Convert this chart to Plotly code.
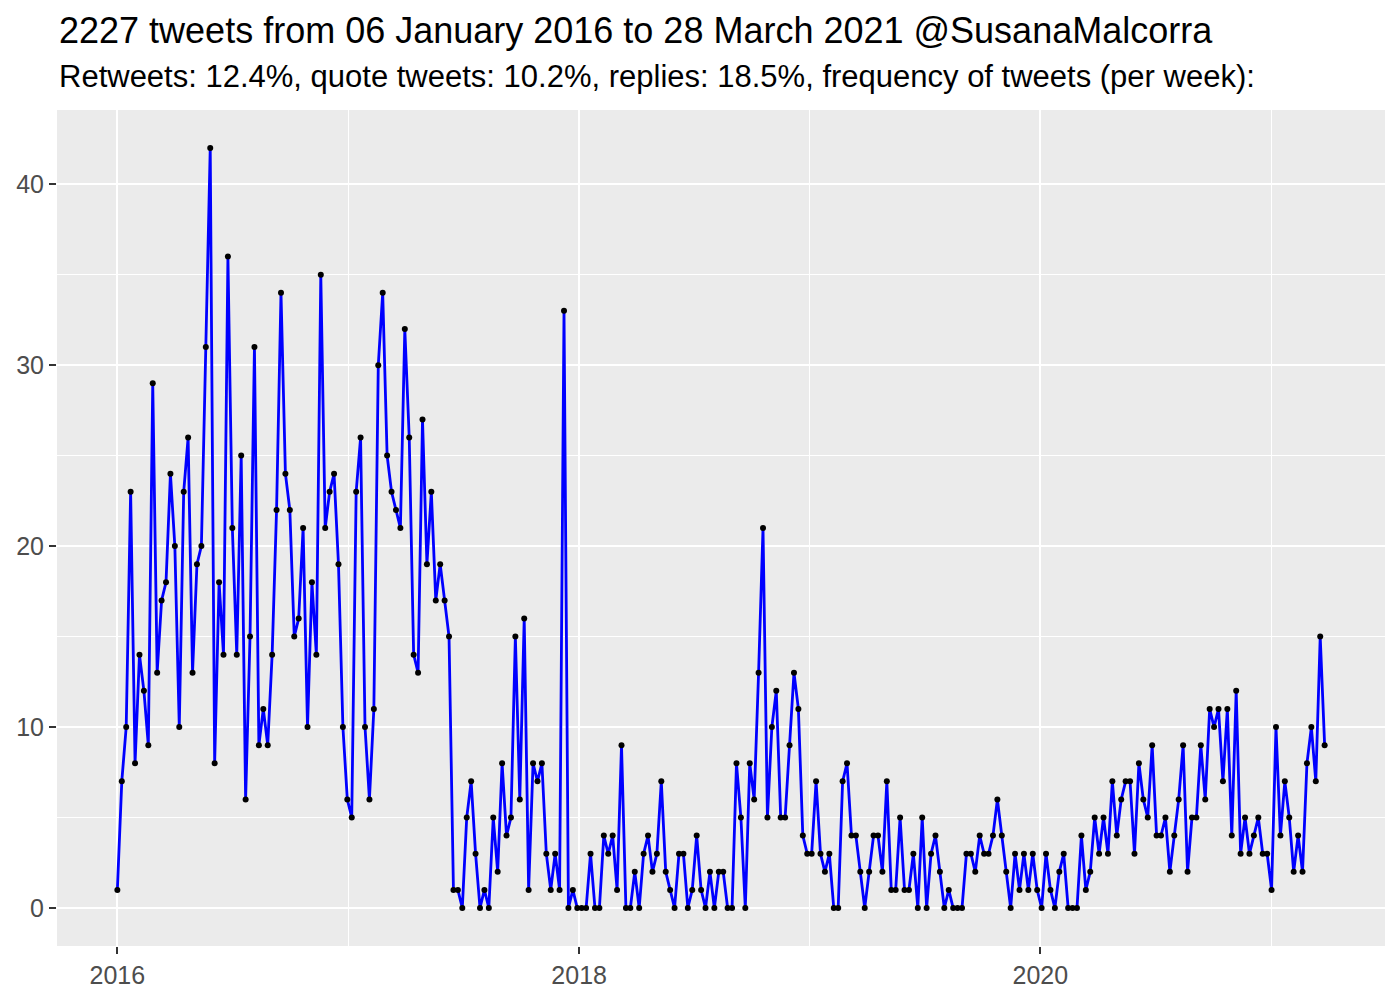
import plotly.graph_objects as go
import pandas as pd

# weekly tweet counts (weeks start 2016-01-01)
first_week = '2016-01-01'

weeks_2016 = [1, 7, 10, 23, 8, 14, 12, 9, 29, 13, 17, 18, 24, 20, 10, 23, 26, 13,
              19, 20, 31, 42, 8, 18, 14, 36, 21, 14, 25, 6, 15, 31, 9, 11, 9, 14,
              22, 34, 24, 22, 15, 16, 21, 10, 18, 14, 35, 21, 23, 24, 19, 10, 6]
weeks_2017 = [5, 23, 26, 10, 6, 11, 30, 34, 25, 23, 22, 21, 32, 26, 14, 13, 27, 19,
              23, 17, 19, 17, 15, 1, 1, 0, 5, 7, 3, 0, 1, 0, 5, 2, 8, 4, 5, 15, 6,
              16, 1, 8, 7, 8, 3, 1, 3, 1, 33, 0, 1, 0]
weeks_2018 = [0, 0, 3, 0, 0, 4, 3, 4, 1, 9, 0, 0, 2, 0, 3, 4, 2, 3, 7, 2, 1, 0, 3, 3,
              0, 1, 4, 1, 0, 2, 0, 2, 2, 0, 0, 8, 5, 0, 8, 6, 13, 21, 5, 10, 12, 5,
              5, 9, 13, 11, 4, 3]
weeks_2019 = [3, 7, 3, 2, 3, 0, 0, 7, 8, 4, 4, 2, 0, 2, 4, 4, 2, 7, 1, 1, 5, 1, 1,
              3, 0, 5, 0, 3, 4, 2, 0, 1, 0, 0, 0, 3, 3, 2, 4, 3, 3, 4, 6, 4, 2, 0,
              3, 1, 3, 1, 3, 1]
weeks_2020 = [0, 3, 1, 0, 2, 3, 0, 0, 0, 4, 1, 2, 5, 3, 5, 3, 7, 4, 6, 7, 7, 3, 8,
              6, 5, 9, 4, 4, 5, 2, 4, 6, 9, 2, 5, 5, 9, 6, 11, 10, 11, 7, 11, 4, 12,
              3, 5, 3, 4, 5, 3, 3]
weeks_2021 = [1, 10, 4, 7, 5, 2, 4, 2, 8, 10, 7, 15, 9]

counts = weeks_2016 + weeks_2017 + weeks_2018 + weeks_2019 + weeks_2020 + weeks_2021
dates = pd.date_range(first_week, periods=len(counts), freq='7D')

title_text = '2227 tweets from 06 January 2016 to 28 March 2021 @SusanaMalcorra'
subtitle_text = ('Retweets: 12.4%, quote tweets: 10.2%, replies: 18.5%, '
                 'frequency of tweets (per week):')

# ggplot-like 5% expansion
span = dates[-1] - dates[0]
x_range = [dates[0] - span * 0.05, dates[-1] + span * 0.05]
y_range = [-0.05 * 42, 42 * 1.05]

font_family = 'Liberation Sans, Arial, sans-serif'

fig = go.Figure()

fig.add_trace(go.Scatter(
    x=dates,
    y=counts,
    mode='lines+markers',
    line=dict(color='#0000FF', width=2.8),
    marker=dict(color='black', size=6),
    showlegend=False
))

fig.update_layout(
    width=1400,
    height=1000,
    margin=dict(l=57, r=15, t=110, b=54, pad=0),
    paper_bgcolor='white',
    plot_bgcolor='#EBEBEB',
    font=dict(family=font_family, color='#4D4D4D'),
    annotations=[
        dict(text=title_text, xref='paper', yref='paper', x=0, y=1.0955,
             xanchor='left', yanchor='middle', showarrow=False,
             font=dict(size=36, color='black', family=font_family)),
        dict(text=subtitle_text, xref='paper', yref='paper', x=0, y=1.0395,
             xanchor='left', yanchor='middle', showarrow=False,
             font=dict(size=31, color='black', family=font_family)),
    ]
)

fig.update_xaxes(
    type='date',
    range=x_range,
    tick0='2016-01-01',
    dtick='M24',
    tickformat='%Y',
    showgrid=True,
    gridcolor='white',
    gridwidth=2,
    minor=dict(tick0='2016-01-01', dtick='M12', showgrid=True,
               gridcolor='white', gridwidth=1, ticks=''),
    ticks='outside',
    ticklen=7,
    tickwidth=2,
    tickcolor='#333333',
    tickfont=dict(size=25, color='#4D4D4D'),
    ticklabelstandoff=0,
    zeroline=False,
    showline=False
)

fig.update_yaxes(
    range=y_range,
    tick0=0,
    dtick=10,
    showgrid=True,
    gridcolor='white',
    gridwidth=2,
    minor=dict(tick0=0, dtick=5, showgrid=True,
               gridcolor='white', gridwidth=1, ticks=''),
    ticks='outside',
    ticklen=7,
    tickwidth=2,
    tickcolor='#333333',
    tickfont=dict(size=25, color='#4D4D4D'),
    zeroline=False,
    showline=False
)

# drop the default body margin so the figure sits at the page corner
fig.write_html('out.html', config={'displayModeBar': False},
               post_script="document.body.style.margin = '0';")
